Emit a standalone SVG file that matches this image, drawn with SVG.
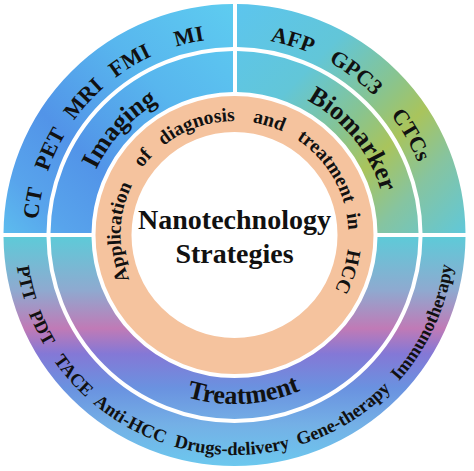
<svg xmlns="http://www.w3.org/2000/svg" xmlns:xlink="http://www.w3.org/1999/xlink" width="474" height="471" viewBox="0 0 474 471">
<style>
.t{font-family:"Liberation Serif","Times New Roman",serif;font-weight:bold;fill:#111;}
.o{font-size:22px;}
.b{font-size:18.5px;}
.m{font-size:26px;}
.p{font-size:19.5px;}
.c{font-size:28px;text-anchor:middle;}
.ring{fill:none;}
</style>
<defs>
<clipPath id="clipIm"><rect x="0" y="0" width="233" height="233"/></clipPath>
<clipPath id="clipBio"><rect x="237" y="0" width="237" height="233"/></clipPath>
<clipPath id="clipTr"><rect x="0" y="237" width="474" height="234"/></clipPath>
<linearGradient id="gIm" gradientUnits="userSpaceOnUse" x1="235" y1="0" x2="0" y2="235">
<stop offset="0" stop-color="#5ECDF0"/>
<stop offset="0.35" stop-color="#58B6EE"/>
<stop offset="0.65" stop-color="#5294E8"/>
<stop offset="0.85" stop-color="#58A4EC"/>
<stop offset="1" stop-color="#5DBEEE"/>
</linearGradient>
<linearGradient id="gBio" gradientUnits="userSpaceOnUse" x1="235" y1="0" x2="474" y2="235">
<stop offset="0" stop-color="#5CC5EF"/>
<stop offset="0.3" stop-color="#62C6D8"/>
<stop offset="0.5" stop-color="#88C490"/>
<stop offset="0.63" stop-color="#A9C45C"/>
<stop offset="0.78" stop-color="#86C4A0"/>
<stop offset="1" stop-color="#5CC8E0"/>
</linearGradient>
<linearGradient id="gTr" gradientUnits="userSpaceOnUse" x1="0" y1="237" x2="0" y2="466">
<stop offset="0" stop-color="#5ECAD8"/>
<stop offset="0.23" stop-color="#8EAAD0"/>
<stop offset="0.40" stop-color="#C07AB6"/>
<stop offset="0.51" stop-color="#8478D6"/>
<stop offset="0.66" stop-color="#6A92E0"/>
<stop offset="0.82" stop-color="#74B0E6"/>
<stop offset="1" stop-color="#6CC8EE"/>
</linearGradient>
<path id="pOutTop" d="M 234.5,432 A 197,197 0 1,1 234.5,38 A 197,197 0 1,1 234.5,432"/>
<path id="pMidTop" d="M 234.5,388 A 153,153 0 1,1 234.5,82 A 153,153 0 1,1 234.5,388"/>
<path id="pPeach" d="M 234.5,349 A 114,114 0 1,1 234.5,121 A 114,114 0 1,1 234.5,349"/>
<path id="pOutBot" d="M 234.5,15 A 220,220 0 1,0 234.5,455 A 220,220 0 1,0 234.5,15"/>
<path id="pMidBot" d="M 234.5,66 A 169,169 0 1,0 234.5,404 A 169,169 0 1,0 234.5,66"/>
</defs>
<rect x="0" y="0" width="474" height="471" fill="#FFFFFF"/>

<g id="imaging">
<g clip-path="url(#clipIm)">
<circle class="ring" cx="234.5" cy="235" r="209.5" stroke="url(#gIm)" stroke-width="43"/>
<circle class="ring" cx="234.5" cy="235" r="163.5" stroke="url(#gIm)" stroke-width="41"/>
</g>
<text class="t o" text-anchor="middle"><textPath href="#pOutTop" startOffset="27.5%">CT</textPath></text>
<text class="t o" text-anchor="middle"><textPath href="#pOutTop" startOffset="31.94%">PET</textPath></text>
<text class="t o" text-anchor="middle"><textPath href="#pOutTop" startOffset="36.67%">MRI</textPath></text>
<text class="t o" text-anchor="middle"><textPath href="#pOutTop" startOffset="41.39%">FMI</textPath></text>
<text class="t o" text-anchor="middle"><textPath href="#pOutTop" startOffset="46.39%">MI</textPath></text>
<text class="t m" text-anchor="middle"><textPath href="#pMidTop" startOffset="36.83%">Imaging</textPath></text>
</g>

<g id="biomarker">
<g clip-path="url(#clipBio)">
<circle class="ring" cx="234.5" cy="235" r="209.5" stroke="url(#gBio)" stroke-width="43"/>
<circle class="ring" cx="234.5" cy="235" r="163.5" stroke="url(#gBio)" stroke-width="41"/>
</g>
<text class="t o" text-anchor="middle"><textPath href="#pOutTop" startOffset="54.64%">AFP</textPath></text>
<text class="t o" text-anchor="middle"><textPath href="#pOutTop" startOffset="60.22%">GPC3</textPath></text>
<text class="t o" text-anchor="middle"><textPath href="#pOutTop" startOffset="66.78%">CTCs</textPath></text>
<text class="t m" text-anchor="middle"><textPath href="#pMidTop" startOffset="64.17%">Biomarker</textPath></text>
</g>

<g id="treatment">
<g clip-path="url(#clipTr)">
<circle class="ring" cx="234.5" cy="235" r="209.5" stroke="url(#gTr)" stroke-width="43"/>
<circle class="ring" cx="234.5" cy="235" r="163.5" stroke="url(#gTr)" stroke-width="41"/>
</g>
<text class="t b" text-anchor="middle"><textPath href="#pOutBot" startOffset="28.61%">PTT</textPath></text>
<text class="t b" text-anchor="middle"><textPath href="#pOutBot" startOffset="32.14%">PDT</textPath></text>
<text class="t b" text-anchor="middle"><textPath href="#pOutBot" startOffset="36.42%">TACE</textPath></text>
<text class="t b" text-anchor="middle"><textPath href="#pOutBot" startOffset="41.83%">Anti-HCC</textPath></text>
<text class="t b" text-anchor="middle"><textPath href="#pOutBot" startOffset="49.81%">Drugs-delivery</textPath></text>
<text class="t b" text-anchor="middle"><textPath href="#pOutBot" startOffset="58.67%">Gene-therapy</textPath></text>
<text class="t b" text-anchor="middle"><textPath href="#pOutBot" startOffset="68.11%">Immunotherapy</textPath></text>
<text class="t m" text-anchor="middle"><textPath href="#pMidBot" startOffset="50.92%">Treatment</textPath></text>
</g>

<g id="application">
<circle class="ring" cx="234.5" cy="235" r="121" stroke="#F5C39E" stroke-width="36"/>
<text class="t p" text-anchor="middle"><textPath href="#pPeach" startOffset="25.42%">Application</textPath></text>
<text class="t p" text-anchor="middle"><textPath href="#pPeach" startOffset="36.11%">of</textPath></text>
<text class="t p" text-anchor="middle"><textPath href="#pPeach" startOffset="44.67%">diagnosis</textPath></text>
<text class="t p" text-anchor="middle"><textPath href="#pPeach" startOffset="54.72%">and</textPath></text>
<text class="t p" text-anchor="middle"><textPath href="#pPeach" startOffset="64.86%">treatment</textPath></text>
<text class="t p" text-anchor="middle"><textPath href="#pPeach" startOffset="73.17%">in</textPath></text>
<text class="t p" text-anchor="middle"><textPath href="#pPeach" startOffset="79.97%">HCC</textPath></text>
</g>

<g id="center">
<text class="t c" x="234.5" y="229">Nanotechnology</text>
<text class="t c" x="234.5" y="263">Strategies</text>
</g>
</svg>
